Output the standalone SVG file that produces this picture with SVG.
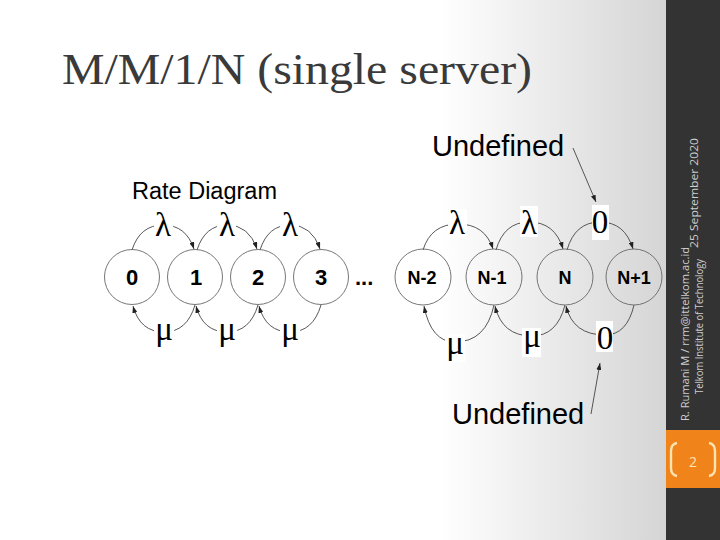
<svg xmlns="http://www.w3.org/2000/svg" width="720" height="540" viewBox="0 0 720 540">
<defs>
<linearGradient id="bg" x1="0" y1="0" x2="666" y2="0" gradientUnits="userSpaceOnUse">
<stop offset="0" stop-color="#ffffff"/>
<stop offset="0.66" stop-color="#ffffff"/>
<stop offset="1" stop-color="#d5d5d5"/>
</linearGradient>
<marker id="arr" markerWidth="7" markerHeight="5" refX="7" refY="2.5" orient="auto" markerUnits="userSpaceOnUse">
<path d="M0,0 L7,2.5 L0,5 z" fill="#222"/>
</marker>
<style>
.st{fill:none;stroke:#666;stroke-width:0.9}
.nl{font-family:"Liberation Sans",Arial,sans-serif;font-weight:bold;fill:#000;text-anchor:middle}
.d{font-size:22px}
.n{font-size:18px}
.gl{font-family:"Liberation Serif","Times New Roman",serif;font-size:33px;fill:#000;text-anchor:middle}
.cn{fill:none;stroke:#444;stroke-width:0.9;marker-end:url(#arr)}
.lb{font-family:"Liberation Sans",Arial,sans-serif;fill:#000}
.wb{fill:#fff}
.side{font-family:"Open Sans","Liberation Sans",sans-serif;font-size:10px;fill:#cfcfcf}
</style>
</defs>
<rect x="0" y="0" width="720" height="540" fill="url(#bg)"/>
<rect x="666" y="0" width="54" height="540" fill="#333333"/>
<rect x="666" y="430" width="54" height="58" fill="#f0841a"/>
<g id="slide-number">
<path d="M677,443 Q671,444 671,451 L671,468 Q671,475 677,476" fill="none" stroke="#fbe3b0" stroke-width="2.4"/>
<path d="M709,443 Q715,444 715,451 L715,468 Q715,475 709,476" fill="none" stroke="#fbe3b0" stroke-width="2.4"/>
<text x="693" y="467" font-family="Open Sans,Liberation Sans,sans-serif" font-size="14" fill="#fbe3b0" text-anchor="middle">2</text>
</g>
<g id="footer">
<text class="side" transform="translate(689,421) rotate(-90)" textLength="174" lengthAdjust="spacingAndGlyphs">R. Rumani M / rrm@ittelkom.ac.id</text>
<text class="side" transform="translate(703,394) rotate(-90)" textLength="135" lengthAdjust="spacingAndGlyphs">Telkom Institute of Technology</text>
<text class="side" transform="translate(698,248) rotate(-90)" textLength="110" lengthAdjust="spacingAndGlyphs">25 September 2020</text>
</g>
<text id="title" x="62" y="84" font-family="Liberation Serif,Times New Roman,serif" font-size="44" fill="#3a3a3a" textLength="470" lengthAdjust="spacingAndGlyphs">M/M/1/N (single server)</text>
<text id="rate-title" class="lb" x="132" y="199" font-size="23.5">Rate Diagram</text>

<g id="connectors">
<path class="cn" d="M132,250 Q140,225 163,225 Q186,225 194,249"/>
<path class="cn" d="M197,250 Q205,225 227,225 Q249,225 257,249"/>
<path class="cn" d="M260,250 Q268,225 290,225 Q312,225 320,249"/>
<path class="cn" d="M195,305 Q187,332 164,332 Q140,332 133,306"/>
<path class="cn" d="M258,305 Q250,332 227,332 Q203,332 196,306"/>
<path class="cn" d="M321,305 Q313,332 290,332 Q266,332 259,306"/>
<path class="cn" d="M423,250 Q431,224 458,224 Q485,224 493,249"/>
<path class="cn" d="M496,250 Q504,222 529,222 Q555,222 563,249"/>
<path class="cn" d="M567,250 Q575,222 600,222 Q625,222 633,249"/>
<path class="cn" d="M494,305 Q486,342 455,342 Q431,342 424,306"/>
<path class="cn" d="M565,305 Q557,336 532,336 Q502,336 495,306"/>
<path class="cn" d="M634,305 Q627,335 605,335 Q573,335 566,306"/>
<path class="cn" d="M573,148 L596,202"/>
<path class="cn" d="M591,414 L600,363"/>
</g>

<g id="labels">
<rect class="wb" x="154" y="211" width="19" height="27"/>
<rect class="wb" x="217" y="211" width="19" height="27"/>
<rect class="wb" x="280" y="211" width="19" height="27"/>
<text class="gl" x="163" y="236">λ</text>
<text class="gl" x="227" y="236">λ</text>
<text class="gl" x="290" y="236">λ</text>
<rect class="wb" x="154" y="320" width="20" height="27"/>
<rect class="wb" x="217" y="320" width="20" height="27"/>
<rect class="wb" x="280" y="320" width="20" height="27"/>
<text class="gl" x="164" y="340">μ</text>
<text class="gl" x="227" y="340">μ</text>
<text class="gl" x="290" y="340">μ</text>
<rect class="wb" x="448" y="209" width="19" height="28"/>
<text class="gl" x="457" y="234">λ</text>
<rect class="wb" x="520" y="206" width="18" height="31"/>
<text class="gl" x="529" y="234">λ</text>
<rect class="wb" x="592" y="205" width="17" height="35"/>
<text class="gl" x="600" y="233">0</text>
<rect class="wb" x="445" y="334" width="20" height="28"/>
<text class="gl" x="455" y="354">μ</text>
<rect class="wb" x="522" y="328" width="19" height="29"/>
<text class="gl" x="532" y="347">μ</text>
<rect class="wb" x="596" y="321" width="17" height="31"/>
<text class="gl" x="605" y="349">0</text>
<text class="lb" x="432" y="156" font-size="29">Undefined</text>
<text class="lb" x="452" y="424" font-size="29">Undefined</text>
<text x="355" y="285" font-family="Liberation Sans,Arial,sans-serif" font-weight="bold" font-size="22" fill="#000">...</text>
</g>

<g id="node-0"><circle class="st" cx="132" cy="277" r="27.5"/><text class="nl d" x="132" y="285">0</text></g>
<g id="node-1"><circle class="st" cx="195" cy="277" r="27.5"/><text class="nl d" x="196" y="285">1</text></g>
<g id="node-2"><circle class="st" cx="258" cy="277" r="27.5"/><text class="nl d" x="258" y="285">2</text></g>
<g id="node-3"><circle class="st" cx="321" cy="277" r="27.5"/><text class="nl d" x="321" y="285">3</text></g>
<g id="node-N-2"><circle class="st" cx="423" cy="277" r="28"/><text class="nl n" x="422" y="284">N-2</text></g>
<g id="node-N-1"><circle class="st" cx="494" cy="277" r="28"/><text class="nl n" x="492" y="284">N-1</text></g>
<g id="node-N"><circle class="st" cx="565" cy="277" r="28"/><text class="nl n" x="565" y="284">N</text></g>
<g id="node-N+1"><circle class="st" cx="634" cy="277" r="28"/><text class="nl n" x="634" y="284">N+1</text></g>
</svg>
